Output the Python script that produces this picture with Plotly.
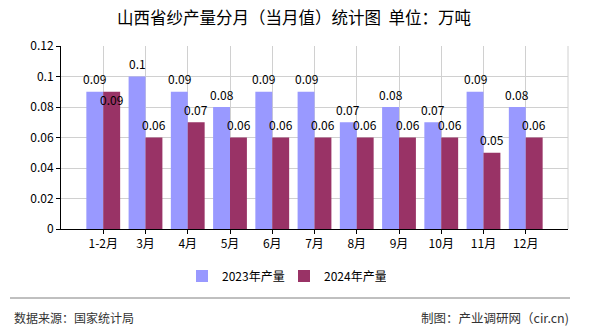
import plotly.graph_objects as go

categories = ["1-2月", "3月", "4月", "5月", "6月", "7月", "8月", "9月", "10月", "11月", "12月"]
values_2023 = [0.09, 0.1, 0.09, 0.08, 0.09, 0.09, 0.07, 0.08, 0.07, 0.09, 0.08]
values_2024 = [0.09, 0.06, 0.07, 0.06, 0.06, 0.06, 0.06, 0.06, 0.06, 0.05, 0.06]
series_names = ["2023年产量", "2024年产量"]
colors = ["#9999FF", "#993366"]
y_ticks = [0, 0.02, 0.04, 0.06, 0.08, 0.1, 0.12]
y_tick_labels = ["0", "0.02", "0.04", "0.06", "0.08", "0.1", "0.12"]

FONT = "SimSun, 'Noto Sans CJK SC', sans-serif"

xpos = list(range(len(categories)))

fig = go.Figure()
for name, vals, col in zip(series_names, [values_2023, values_2024], colors):
    fig.add_trace(go.Bar(x=xpos, y=vals, name=name, marker=dict(color=col, line=dict(width=0))))

annotations = []
for si, vals in enumerate([values_2023, values_2024]):
    other = values_2024 if si == 0 else values_2023
    for i, v in enumerate(vals):
        ys = 13
        if si == 1 and abs(v - other[i]) < 1e-9:
            ys = -8
        annotations.append(dict(
            x=i, y=v, xref="x", yref="y", text=f"{v:g}", showarrow=False,
            xshift=-8.5 if si == 0 else 8.5, yshift=ys,
            font=dict(family=FONT, size=12, color="#000000"),
        ))

annotations += [
    dict(text="数据来源：国家统计局", x=12, y=317, xref="paper", yref="paper",
         showarrow=False, xanchor="left", yanchor="middle",
         font=dict(family=FONT, size=12, color="#333333")),
    dict(text="制图：产业调研网（cir.cn)", x=571, y=317, xref="paper", yref="paper",
         showarrow=False, xanchor="right", yanchor="middle",
         font=dict(family=FONT, size=12.5, color="#333333")),
]

# convert paper pixel coords for footer annotations
W, H = 590, 330
ml, mr, mt, mb = 61, 22, 46, 101
pw, ph = W - ml - mr, H - mt - mb
for a in annotations[-2:]:
    a["x"] = (a["x"] - ml) / pw
    a["y"] = (H - a["y"] - mb) / ph

fig.update_layout(
    width=W, height=H,
    margin=dict(l=ml, r=mr, t=mt, b=mb, pad=0),
    paper_bgcolor="white", plot_bgcolor="white",
    barmode="group", bargap=0.2, bargroupgap=0,
    title=dict(text="山西省纱产量分月（当月值）统计图  单位：万吨", x=(294 - ml) / pw, xref="paper",
               xanchor="center", y=1 - 18 / H, yanchor="middle",
               font=dict(family=FONT, size=16.5, color="#000000")),
    font=dict(family=FONT, size=12, color="#000000"),
    showlegend=True,
    legend=dict(orientation="h", x=(284 - ml) / pw, xanchor="center",
                y=(H - 276 - mb) / ph, yanchor="middle",
                font=dict(family=FONT, size=12, color="#000000"),
                itemwidth=30, tracegroupgap=0, entrywidth=57),
    annotations=annotations,
    shapes=[dict(type="line", xref="paper", yref="paper",
                 x0=(10 - ml) / pw, x1=(570 - ml) / pw,
                 y0=(H - 298 - mb) / ph, y1=(H - 298 - mb) / ph,
                 line=dict(color="#808080", width=1))],
)

fig.update_xaxes(
    range=[-1, len(categories)], tickmode="array", tickvals=xpos, ticktext=categories,
    showgrid=True, gridcolor="#D0D0D0", gridwidth=1,
    showline=True, linecolor="#000000", linewidth=1, mirror=False,
    ticks="outside", ticklen=4, tickcolor="#000000",
    tickfont=dict(family=FONT, size=12, color="#000000"), zeroline=False,
)
fig.update_yaxes(
    range=[0, 0.12], tickmode="array", tickvals=y_ticks, ticktext=y_tick_labels,
    showgrid=True, gridcolor="#D0D0D0", gridwidth=1,
    showline=True, linecolor="#000000", linewidth=1,
    ticks="outside", ticklen=4, tickcolor="#000000",
    tickfont=dict(family=FONT, size=12, color="#000000"), zeroline=False,
)
# right border line
fig.add_shape(type="line", xref="paper", yref="paper", x0=1, x1=1, y0=0, y1=1,
              line=dict(color="#D0D0D0", width=1))

fig.write_html("out.html")
